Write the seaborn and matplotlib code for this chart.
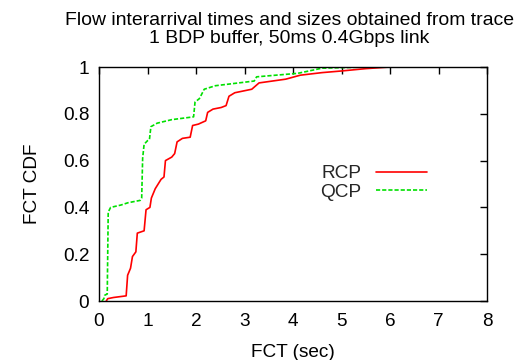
import matplotlib
matplotlib.use("Agg")
import matplotlib.pyplot as plt
import seaborn as sns
import pandas as pd

title = "Flow interarrival times and sizes obtained from trace\n1 BDP buffer, 50ms 0.4Gbps link"
x_label = "FCT (sec)"
y_label = "FCT CDF"
x_ticks = [0, 1, 2, 3, 4, 5, 6, 7, 8]
y_ticks = [0, 0.2, 0.4, 0.6, 0.8, 1]
y_tick_labels = ["0", "0.2", "0.4", "0.6", "0.8", "1"]

rcp_x = [0.15, 0.18, 0.3, 0.56, 0.59, 0.65, 0.69, 0.76, 0.79, 0.93, 0.97, 1.05, 1.08, 1.16,
         1.28, 1.34, 1.37, 1.50, 1.56, 1.61, 1.72, 1.88, 1.93, 2.05, 2.2, 2.24, 2.35, 2.52,
         2.62, 2.68, 2.8, 3.15, 3.3, 3.85, 4.15, 4.6, 5.0, 5.5, 6.0, 8.0]
rcp_y = [0.0, 0.01, 0.015, 0.022, 0.11, 0.14, 0.19, 0.21, 0.29, 0.30, 0.39, 0.40, 0.44, 0.48,
         0.52, 0.53, 0.60, 0.615, 0.63, 0.68, 0.695, 0.70, 0.75, 0.756, 0.77, 0.806, 0.82, 0.827,
         0.835, 0.875, 0.89, 0.905, 0.932, 0.948, 0.965, 0.976, 0.983, 0.993, 1.0, 1.0]

qcp_x = [0.06, 0.1, 0.12, 0.17, 0.19, 0.24, 0.45, 0.6, 0.85, 0.88, 0.9, 0.93, 1.0, 1.04, 1.07,
         1.2, 1.5, 1.95, 1.98, 2.07, 2.17, 2.4, 3.2, 3.25, 4.1, 4.6, 5.5, 8.0]
qcp_y = [0.0, 0.01, 0.025, 0.03, 0.38, 0.40, 0.41, 0.42, 0.43, 0.44, 0.61, 0.67, 0.685, 0.69,
         0.745, 0.76, 0.775, 0.787, 0.85, 0.865, 0.905, 0.92, 0.94, 0.958, 0.973, 0.995, 1.0, 1.0]

df = pd.concat([
    pd.DataFrame({"x": rcp_x, "y": rcp_y, "proto": "RCP"}),
    pd.DataFrame({"x": qcp_x, "y": qcp_y, "proto": "QCP"}),
], ignore_index=True)

sns.set_theme(style="white")
plt.rcParams["font.family"] = ["Liberation Sans", "DejaVu Sans"]
fs = 13.7

fig = plt.figure(figsize=(5.15, 3.6), dpi=100)
ax = fig.add_axes([99 / 515, 1 - 301 / 360, (487 - 99) / 515, (301 - 67) / 360])

sns.lineplot(data=df, x="x", y="y", hue="proto", style="proto",
             palette={"RCP": "#ff0000", "QCP": "#00e000"},
             dashes={"RCP": "", "QCP": (2.5, 1.2)},
             estimator=None, sort=False, linewidth=1.2, ax=ax)

ax.set_xlim(0, 8)
ax.set_ylim(0, 1)
ax.set_xticks(x_ticks)
ax.set_yticks(y_ticks)
ax.set_yticklabels(y_tick_labels)
ax.tick_params(direction="in", length=5, width=1, top=True, right=True,
               labelsize=fs, colors="black", pad=7)
ax.tick_params(axis="x", labeltop=False, pad=9)
ax.tick_params(axis="y", labelright=False)
for s in ax.spines.values():
    s.set_color("black")
    s.set_linewidth(1)
    s.set_visible(True)

ax.set_xlabel(x_label, fontsize=fs, color="black", labelpad=10)
ax.set_ylabel(y_label, fontsize=fs, color="black", labelpad=16)
fig.text(0.562, 0.968, title, ha="center", va="top", fontsize=fs * 1.02, color="black",
         linespacing=1.12)

handles, labels = ax.get_legend_handles_labels()
ax.legend(handles, labels, loc="center", bbox_to_anchor=(0.708, 0.505), frameon=False,
          markerfirst=False, fontsize=fs, handlelength=2.7, handletextpad=0.75,
          labelspacing=0.05)

fig.savefig("out.png", dpi=100)
